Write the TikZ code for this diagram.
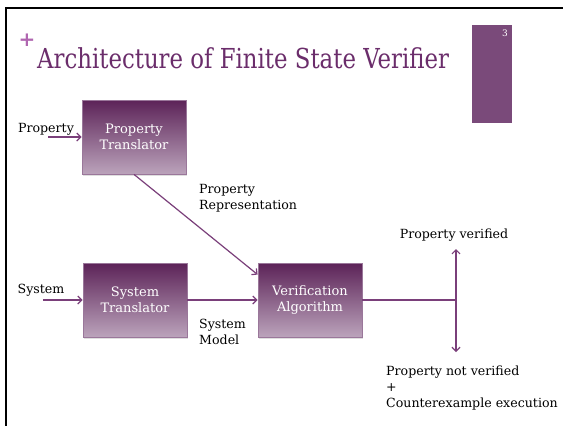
\documentclass[tikz,border=0pt]{standalone}
\usepackage{fontspec}
\setmainfont{DejaVu Serif}
\usetikzlibrary{arrows.meta,shadows,calc}
\definecolor{titlepurple}{HTML}{6B2D6B}
\definecolor{pluspurple}{HTML}{B066B0}
\definecolor{barpurple}{HTML}{7A4A7A}
\definecolor{linepurple}{HTML}{7A3F7A}
\definecolor{boxtop}{HTML}{5C2358}
\definecolor{boxbottom}{HTML}{BBA3BB}
\definecolor{boxedge}{HTML}{9A779A}
\tikzset{
  stage/.style={rectangle, minimum width=104pt, minimum height=74pt,
    top color=boxtop, bottom color=boxbottom, draw=boxedge, line width=0.8pt,
    text=white, align=center, font=\fontsize{13}{16}\selectfont,
    drop shadow={opacity=0.25, shadow xshift=1pt, shadow yshift=-1.5pt}},
  lbl/.style={text=black, align=left, inner sep=0pt, font=\fontsize{12.6}{16}\selectfont},
  flow/.style={draw=linepurple, line width=1.2pt, -{Straight Barb[length=4pt,width=8pt]}},
  flowline/.style={draw=linepurple, line width=1.2pt}
}
\begin{document}
\begin{tikzpicture}[x=1pt,y=-1pt]
\useasboundingbox (0,0) rectangle (563,426);
\fill[white] (0,0) rectangle (563,426);
% slide frame (top and left edges)
\draw[black, line width=2.5pt] (6,426) -- (6,8) -- (563,8);
% heading
\node[text=pluspurple, font=\bfseries\fontsize{20}{20}\selectfont, inner sep=0pt] (plus) at (27,40) {+};
\node[text=titlepurple, font=\fontsize{27.5}{30}\selectfont, anchor=base west, inner sep=0pt] (title) at (37,68) {\scalebox{0.83}[1]{Architecture of Finite State Verifier}};
% page number bar
\fill[barpurple] (472,25) rectangle (512,123);
\node[text=white, font=\fontsize{9}{9}\selectfont, inner sep=0pt] (pagenum) at (505,33) {3};
% processing stages
\node[stage] (pt) at (134,137) {Property\\Translator};
\node[stage] (st) at (135,300) {System\\Translator};
\node[stage] (va) at (310,300) {Verification\\Algorithm};
% inputs
\node[lbl] (proplbl) at (46,129) {Property};
\node[lbl] (syslbl) at (41,290) {System};
\coordinate (propin) at (48,137);
\coordinate (sysin) at (43,300);
\draw[flow] (propin) -- (pt.west);
\draw[flow] (sysin) -- (st.west);
% internal flows
\draw[flow] (st.east) -- (va.west);
\draw[flow] (pt.south) -- ($(va.north west)!0.16!(va.south west)$);
\node[lbl, anchor=north west] (prlbl) at (199,184) {Property\\Representation};
\node[lbl, anchor=north west] (smlbl) at (199,319) {System\\Model};
% outcomes
\coordinate (fork) at (456,300);
\coordinate (yes) at (456,249);
\coordinate (no) at (456,352);
\draw[flowline] (va.east) -- (fork);
\draw[flowline, {Straight Barb[length=4pt,width=8pt]}-{Straight Barb[length=4pt,width=8pt]}] (yes) -- (no);
\node[lbl] (okl) at (454,235) {Property verified};
\node[lbl, anchor=north west] (failbl) at (386,366) {Property not verified\\+\\Counterexample execution};
\end{tikzpicture}
\end{document}
